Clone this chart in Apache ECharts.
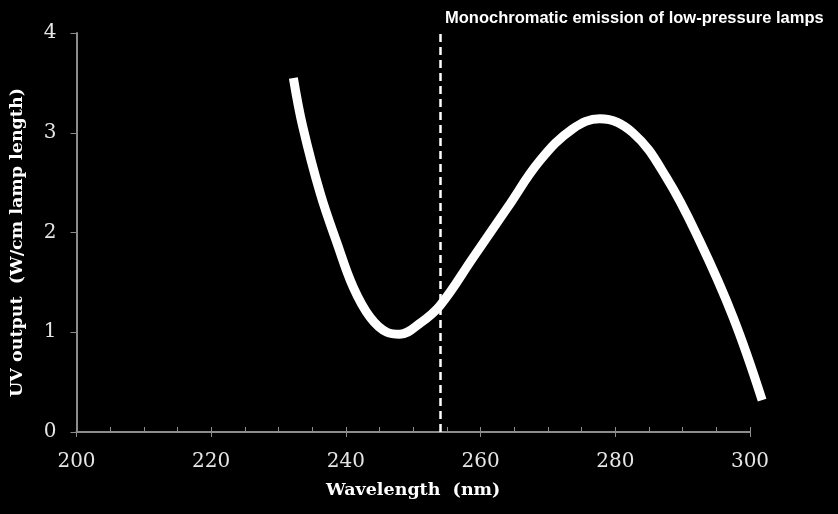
<!DOCTYPE html>
<html>
<head>
<meta charset="utf-8">
<script src="https://cdn.jsdelivr.net/npm/echarts@6/dist/echarts.min.js"></script>
<style>
  html, body { margin: 0; padding: 0; background: #000; }
  #chart { width: 838px; height: 514px; }
</style>
</head>
<body>
<div id="chart"></div>
<script>
  // curve (nm, W/cm)
  var wavelength = [232.2, 233.6, 236.2, 238.7, 241.1, 243.6, 246.1, 248.0, 251.0, 254.0, 258.9, 264.0, 268.8, 273.7, 277.7, 282.6, 287.6, 292.5, 297.5, 301.8];
  var uvOutput = [3.55, 3.06, 2.39, 1.89, 1.45, 1.15, 1.00, 0.98, 1.09, 1.27, 1.75, 2.25, 2.72, 3.04, 3.14, 3.00, 2.55, 1.92, 1.15, 0.32];
  var mercuryLine = 254;
  var noteText = 'Monochromatic emission of low-pressure lamps';

  var points = [];
  for (var i = 0; i < wavelength.length; i++) {
    points.push([wavelength[i], uvOutput[i]]);
  }

  // the curve runs a little past 300, so it sits on a second grid
  // with the same scale that reaches 302
  var plotW = 838 - 76.5 - 88;
  var pxPerNm = plotW / 100;

  var axisGray = '#8c8c8c';
  var serif = 'DejaVu Serif';

  var myChart = echarts.init(document.getElementById('chart'));
  var option = {
    backgroundColor: '#000',
    animation: false,
    title: {
      text: noteText,
      left: 440,
      top: 5,
      textStyle: {
        color: '#fff',
        fontFamily: 'Liberation Sans',
        fontWeight: 'bold',
        fontSize: 16.5
      }
    },
    grid: [{
      left: 76.5, right: 88, top: 33, bottom: 82,
      outerBoundsMode: 'none', containLabel: false
    }, {
      left: 76.5, right: 88 - 2 * pxPerNm, top: 33, bottom: 82,
      outerBoundsMode: 'none', containLabel: false
    }],
    xAxis: [{
      type: 'value',
      gridIndex: 0,
      min: 200,
      max: 300,
      interval: 20,
      name: 'Wavelength  (nm)',
      nameLocation: 'middle',
      nameGap: 49,
      nameTextStyle: {
        color: '#fff',
        fontFamily: serif,
        fontWeight: 'bold',
        fontSize: 17.5
      },
      axisLine: { lineStyle: { color: axisGray, width: 2 } },
      axisTick: { length: 5, lineStyle: { color: axisGray, width: 1 } },
      splitLine: { show: false },
      axisLabel: {
        color: '#e6e6e6',
        fontFamily: serif,
        fontSize: 20,
        margin: 20
      }
    }, {
      type: 'value',
      gridIndex: 0,
      min: 200,
      max: 300,
      interval: 5,
      position: 'bottom',
      axisLine: { show: false },
      axisTick: { inside: true, length: 5, lineStyle: { color: axisGray, width: 1 } },
      axisLabel: { show: false },
      splitLine: { show: false }
    }, {
      type: 'value',
      gridIndex: 1,
      min: 200,
      max: 302,
      show: false
    }],
    yAxis: [{
      type: 'value',
      gridIndex: 0,
      min: 0,
      max: 4,
      interval: 1,
      name: 'UV output  (W/cm lamp length)',
      nameLocation: 'middle',
      nameGap: 50,
      nameTextStyle: {
        color: '#fff',
        fontFamily: serif,
        fontWeight: 'bold',
        fontSize: 17.5,
        padding: [0, 20, 0, 0]
      },
      axisLine: { show: true, lineStyle: { color: axisGray, width: 2 } },
      axisTick: { show: true, length: 6, lineStyle: { color: axisGray, width: 1 } },
      splitLine: { show: false },
      axisLabel: {
        color: '#e6e6e6',
        fontFamily: serif,
        fontSize: 20,
        margin: 20
      }
    }, {
      type: 'value',
      gridIndex: 1,
      min: 0,
      max: 4,
      show: false
    }],
    series: [{
      type: 'line',
      xAxisIndex: 2,
      yAxisIndex: 1,
      data: points,
      smooth: 0.4,
      symbol: 'none',
      clip: false,
      lineStyle: { color: '#fff', width: 9, cap: 'butt' },
      markLine: {
        silent: true,
        symbol: 'none',
        label: { show: false },
        lineStyle: { color: '#fff', width: 2.5, type: [8, 5] },
        data: [{ xAxis: mercuryLine }]
      }
    }]
  };
  myChart.setOption(option);
</script>
</body>
</html>
